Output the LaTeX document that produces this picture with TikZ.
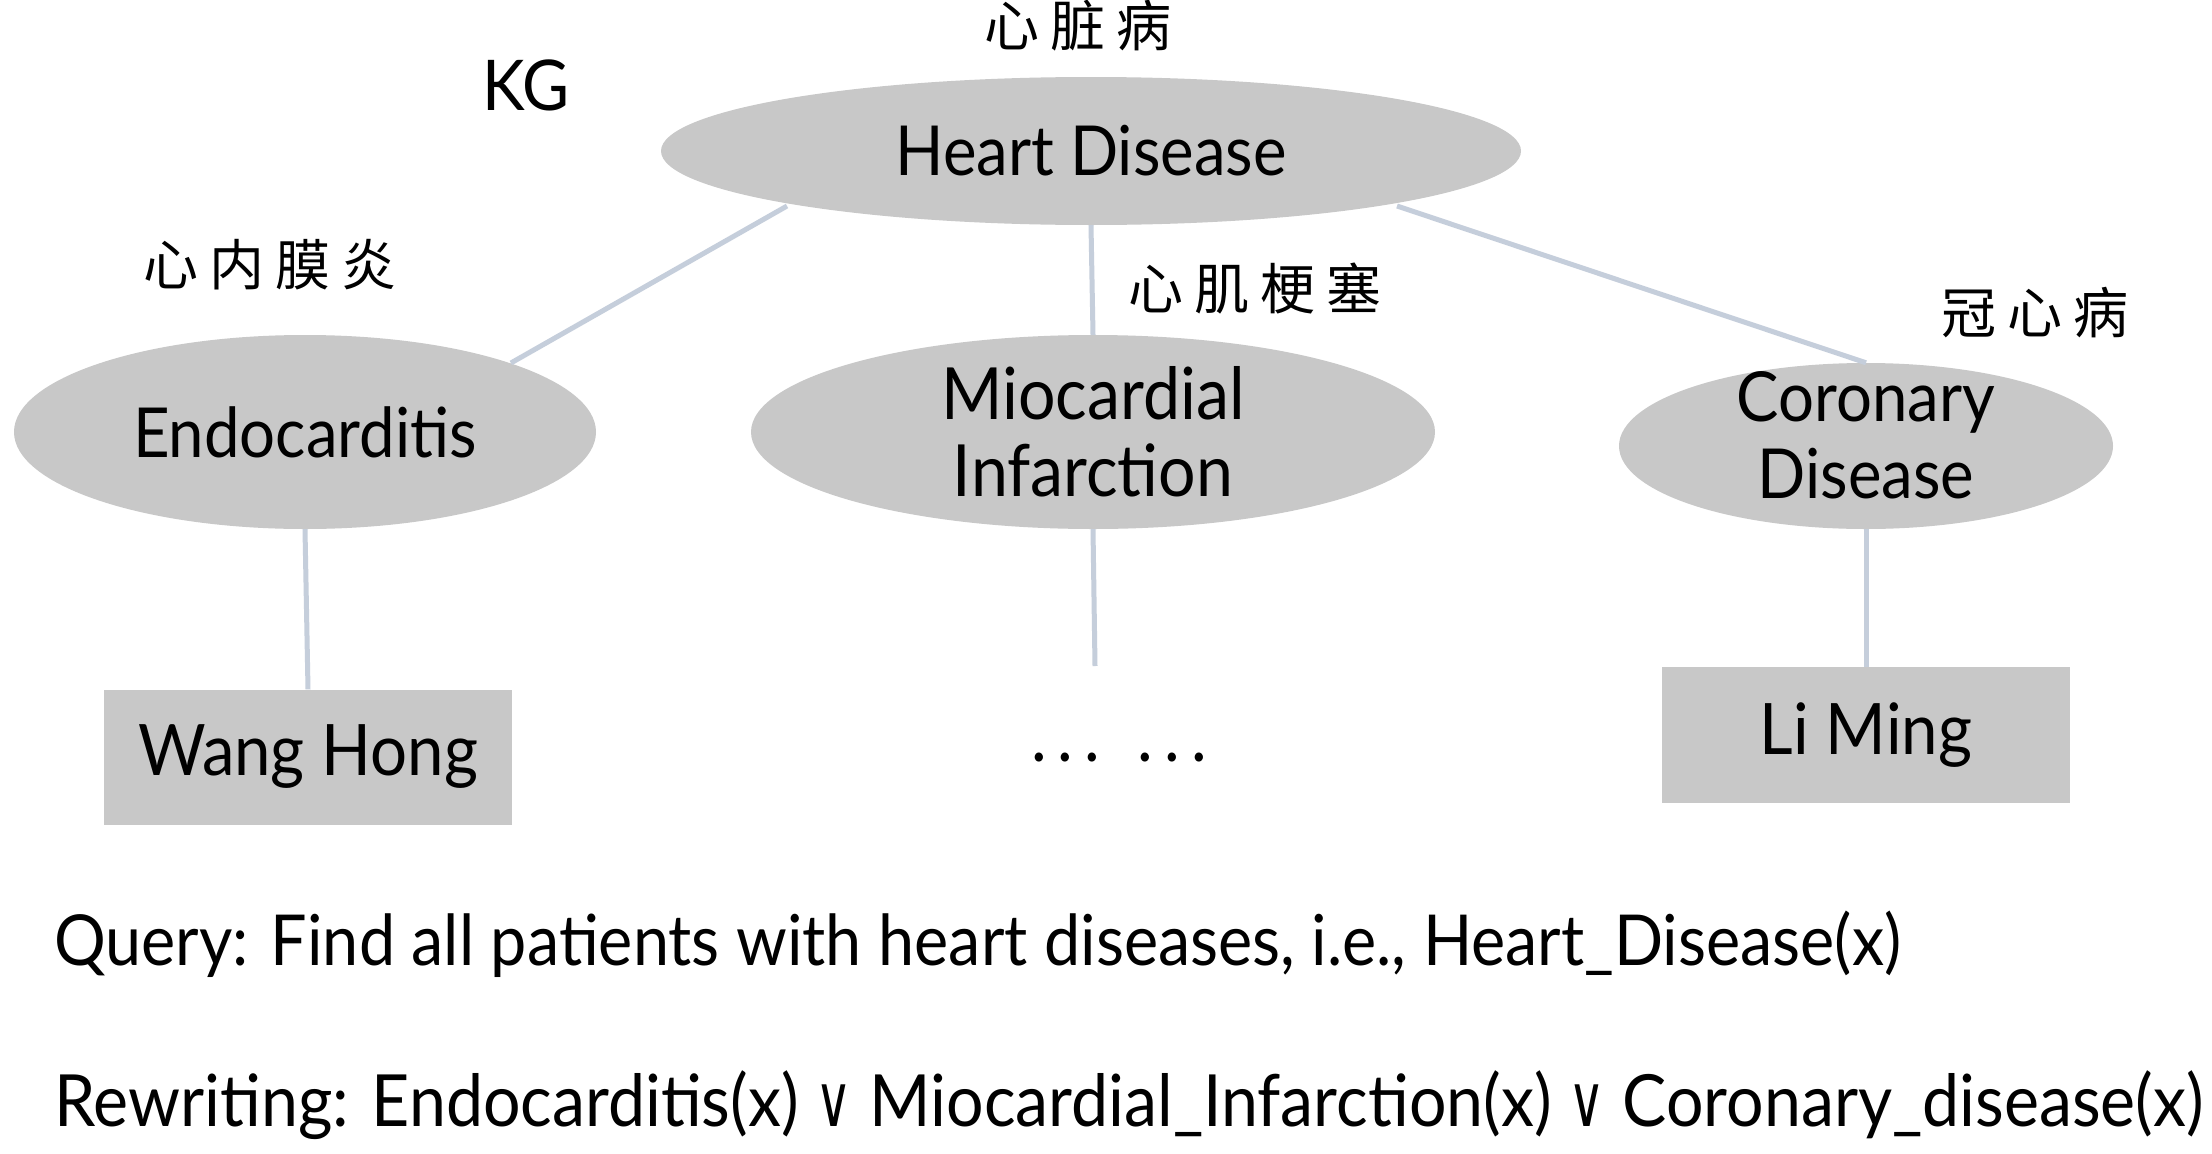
\documentclass[tikz,border=0pt]{standalone}
\usepackage{fontspec}
\setmainfont{Lato}[FakeStretch=0.92]
\newfontfamily\cjk{Noto Sans CJK SC}[LetterSpace=20]
\usetikzlibrary{shapes.geometric}
\definecolor{nodegray}{RGB}{200,200,200}
\definecolor{linkblue}{RGB}{197,206,219}
\tikzset{
  concept/.style={ellipse, fill=nodegray, draw=none, inner sep=0pt, align=center,
    font=\fontsize{69}{77}\selectfont},
  person/.style={rectangle, fill=nodegray, draw=none, inner sep=0pt,
    font=\fontsize{71}{77}\selectfont},
  link/.style={draw=linkblue, line width=5pt},
  cn/.style={font=\cjk\fontsize{55}{60}\selectfont, inner sep=0pt},
  plain/.style={font=\fontsize{72}{78}\selectfont, inner sep=0pt, anchor=west},
}
\begin{document}
\begin{tikzpicture}[x=1pt,y=-1pt]
\useasboundingbox (0,0) rectangle (2212,1154);
\fill[white] (0,0) rectangle (2212,1154);
\node[concept, minimum width=860, minimum height=148] (hd) at (1091,151) {Heart Disease};
\node[concept, minimum width=582, minimum height=194] (en) at (305,432) {Endocarditis};
\node[concept, minimum width=684, minimum height=194, font=\fontsize{72}{77}\selectfont] (mi) at (1093,432) {Miocardial\\Infarction};
\node[concept, minimum width=494, minimum height=166,
  label={[font=\fontsize{69}{77}\selectfont, align=center, inner sep=0pt, yshift=11pt]center:Coronary\\Disease}] (co) at (1866,446) {};
\node[person, minimum width=408, minimum height=135] (wh) at (308,757) {Wang Hong};
\node[person, minimum width=408, minimum height=136] (lm) at (1866,735) {Li Ming};
\coordinate (midend) at (1095,666);
\node[font=\fontsize{72}{78}\selectfont, inner sep=0pt] (dots) at (1119,758)
  {.\hspace{11pt}.\hspace{11pt}.\hspace{38pt}.\hspace{11pt}.\hspace{11pt}.};
\draw[link] (787,206) -- (en.north east |- 0,363) ;
\draw[link] (hd.south) -- (mi.north);
\draw[link] (1397,206) -- (co.north);
\draw[link] (en.south) -- (wh.north);
\draw[link] (mi.south) -- (midend);
\draw[link] (co.south) -- (lm.north);
\node[cn] (c0) at (1078,26) {心脏病};
\node[cn] (c1) at (270,265) {心内膜炎};
\node[cn] (c2) at (1255,289) {心肌梗塞};
\node[cn] (c3) at (2035,313) {冠心病};
\node[font=\fontsize{70}{76}\selectfont, inner sep=0pt] (kg) at (526,85) {KG};
\node[plain, font=\fontsize{70.3}{78}\selectfont] (q) at (54,944) {Query: Find all patients with heart diseases, i.e., Heart\_Disease(x)};
\node[plain] (r) at (54,1105) {Rewriting: Endocarditis(x) {\fontspec{DejaVu Sans}[FakeStretch=0.7]∨} Miocardial\_Infarction(x) {\fontspec{DejaVu Sans}[FakeStretch=0.7]∨} Coronary\_disease(x)};
\end{tikzpicture}
\end{document}
